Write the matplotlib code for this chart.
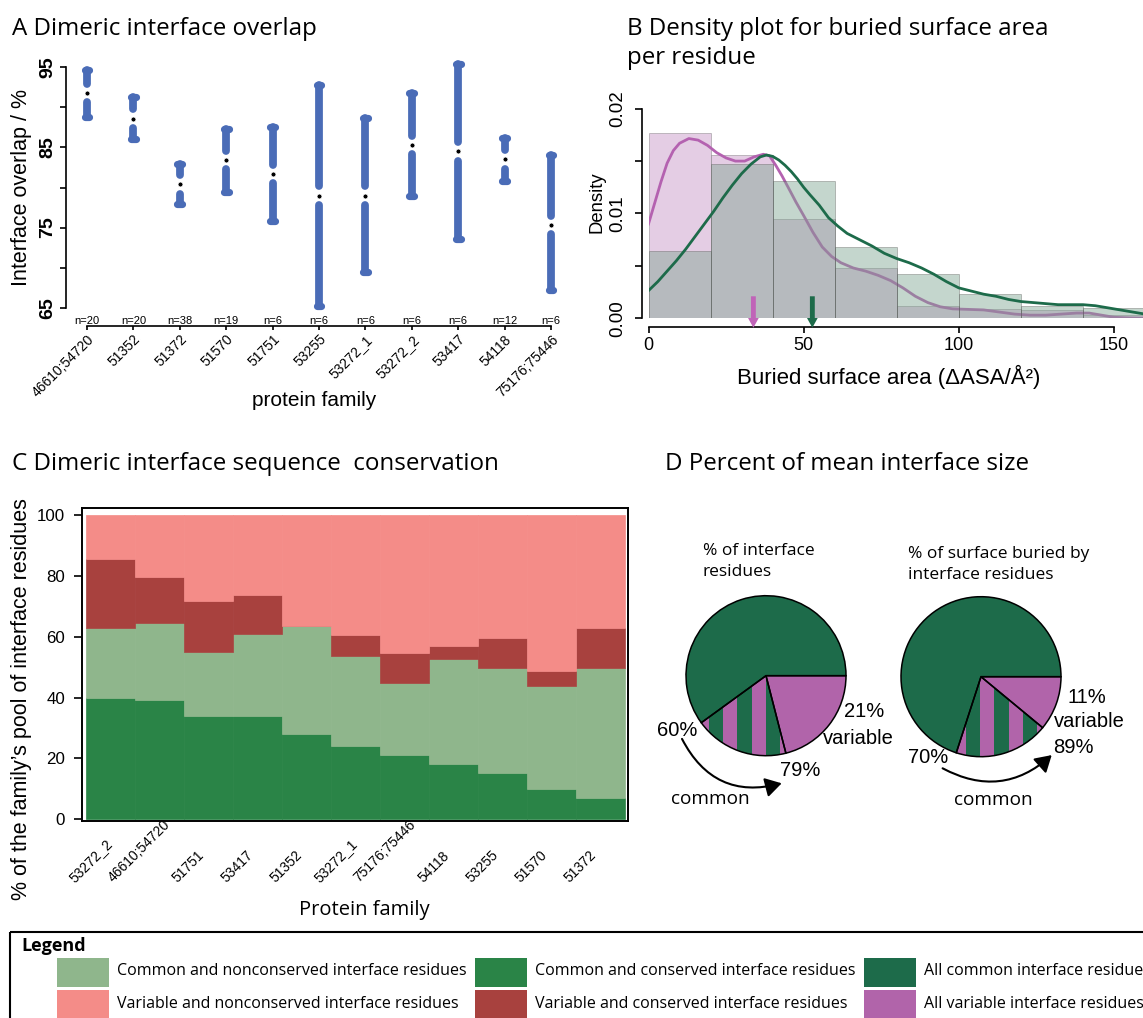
import matplotlib
matplotlib.use('Agg')
import matplotlib.pyplot as plt
from matplotlib.patches import Rectangle
import numpy as np

W, H = 1143, 1018
AF = 'Liberation Sans'   # axis text (Arial-like)
TF = 'Open Sans'         # titles / annotations

BLUE = '#4A6CB7'
LGREEN = '#8FB68C'
GREEN = '#2A8447'
DGREEN = '#1D6B4A'
PINK = '#F48C88'
DRED = '#A8413E'
MAGENTA = '#B164AA'

# ---- panel A: interface overlap ranges ----
a_families = ['46610;54720', '51352', '51372', '51570', '51751', '53255',
              '53272_1', '53272_2', '53417', '54118', '75176;75446']
a_n = [20, 20, 38, 19, 6, 6, 6, 6, 6, 12, 6]
a_top = [94.7, 91.3, 82.9, 87.3, 87.5, 92.8, 88.7, 91.8, 95.4, 86.2, 84.0]
a_bottom = [88.8, 86.0, 77.9, 79.5, 75.8, 65.2, 69.4, 78.9, 73.6, 80.8, 67.2]
a_mean = [91.8, 88.6, 80.4, 83.4, 81.7, 79.0, 79.0, 85.3, 84.5, 83.5, 75.3]

# ---- panel B: buried surface area per residue ----
b_bins = [0, 20, 40, 60, 80, 100, 120, 140]
var_hist = [0.0177, 0.0156, 0.0095, 0.0048, 0.0012, 0.00086, 0.0008, 0.0003]
com_hist = [0.0064, 0.0147, 0.0131, 0.0068, 0.0042, 0.0023, 0.0012, 0.00095]
var_kde_x = [0, 2, 4, 6, 8, 10, 13, 16, 19, 22, 25, 28, 31, 34, 37, 39, 41, 43, 45,
             47.5, 50, 53, 56, 59, 62, 66, 70, 74, 78, 82, 86, 90, 94, 98, 103,
             108, 113, 118, 123, 128, 133, 138, 142, 146, 150, 155, 160]
var_kde_y = [0.0090, 0.0110, 0.0130, 0.0148, 0.0160, 0.0167, 0.01715, 0.0170,
             0.0165, 0.0158, 0.0153, 0.0150, 0.0150, 0.0154, 0.01565, 0.0155,
             0.0146, 0.0136, 0.0125, 0.0111, 0.0098, 0.0082, 0.0068, 0.0059,
             0.0053, 0.0048, 0.0045, 0.0041, 0.0036, 0.0029, 0.0021, 0.0015,
             0.0011, 0.0009, 0.00085, 0.0008, 0.0006, 0.0004, 0.0003, 0.0003,
             0.0004, 0.0005, 0.0005, 0.0003, 0.0001, 0.00003, 0.0]
com_kde_x = [0, 3, 6, 9, 12, 15, 18, 21, 24, 27, 30, 33, 36, 38, 40, 42, 44, 46,
             48, 50, 52, 55, 58, 61, 64, 68, 72, 76, 80, 84, 88, 92, 96, 100,
             104, 108, 112, 116, 120, 124, 128, 132, 136, 140, 144, 148, 152,
             156, 160]
com_kde_y = [0.00264, 0.0035, 0.0045, 0.0055, 0.0066, 0.0078, 0.0090, 0.0102,
             0.0115, 0.0127, 0.0138, 0.0147, 0.0154, 0.01558, 0.01545, 0.0151,
             0.0146, 0.0140, 0.0133, 0.0125, 0.0118, 0.0108, 0.0096, 0.0088,
             0.0081, 0.0075, 0.0069, 0.0062, 0.0057, 0.0053, 0.0048, 0.0042,
             0.0035, 0.0029, 0.0026, 0.0023, 0.0021, 0.0018, 0.0016, 0.0015,
             0.0014, 0.0013, 0.0013, 0.0013, 0.0012, 0.0010, 0.0008, 0.0006,
             0.0004]
b_means = [33.8, 52.8]   # variable, common

# ---- panel C: sequence conservation ----
c_families = ['53272_2', '46610;54720', '51751', '53417', '51352', '53272_1',
              '75176;75446', '54118', '53255', '51570', '51372']
c_common_cons = [39.7, 39.3, 33.9, 33.9, 27.9, 24.0, 21.0, 18.0, 15.0, 10.0, 7.0]
c_common_noncons = [23.1, 25.1, 21.0, 26.9, 35.8, 29.8, 23.9, 34.8, 34.8, 33.9, 42.8]
c_var_cons = [22.8, 15.2, 16.8, 12.9, 0.0, 6.9, 9.9, 4.0, 9.9, 4.9, 13.0]
c_var_noncons = [14.4, 20.4, 28.3, 26.3, 36.3, 39.3, 45.2, 43.2, 40.3, 51.2, 37.2]

# ---- panel D: percent of mean interface size ----
pie_titles = ['% of interface\nresidues', '% of surface buried by\ninterface residues']
pie_common = [60, 70]
pie_shared = [19, 19]
pie_variable = [21, 11]

# ---- legend ----
leg_labels = [['Common and nonconserved interface residues', 'Variable and nonconserved interface residues'],
              ['Common and conserved interface residues', 'Variable and conserved interface residues'],
              ['All common interface residues', 'All variable interface residues']]
leg_colors = [[LGREEN, PINK], [GREEN, DRED], [DGREEN, MAGENTA]]

fig = plt.figure(figsize=(W / 100, H / 100), dpi=100)


def rect(l, t, r, b):
    return [l / W, 1 - b / H, (r - l) / W, (b - t) / H]


def ftext(x, y, s, **kw):
    fig.text(x / W, 1 - y / H, s, **kw)


TITLE_FS = 17.4

# ================= A =================
axA = fig.add_axes(rect(65.7, 55.3, 574.2, 315.7))
xa = np.arange(len(a_families))
gap = 1.15
for x, t, b, m in zip(xa, a_top, a_bottom, a_mean):
    axA.plot([x, x], [t, m + gap], color=BLUE, lw=5.6, solid_capstyle='round', clip_on=False)
    axA.plot([x, x], [m - gap, b], color=BLUE, lw=5.6, solid_capstyle='round', clip_on=False)
    for yv in (t, b):
        axA.plot([x - 0.05, x + 0.05], [yv, yv], color=BLUE, lw=5.2,
                 solid_capstyle='round', clip_on=False)
axA.plot(xa, a_mean, 'o', ms=3.6, mfc='black', mec='white', mew=0.6, ls='none')
axA.set_xlim(-0.459, 10.5)
axA.set_ylim(64, 96.5)
for s in ('top', 'right'):
    axA.spines[s].set_visible(False)
axA.spines['left'].set_bounds(65, 95)
axA.spines['bottom'].set_bounds(0, 10)
axA.spines['bottom'].set_position(('outward', 7.4))
for s in ('left', 'bottom'):
    axA.spines[s].set_linewidth(1.2)
yt = np.arange(65, 96, 5)
axA.set_yticks(yt)
axA.set_yticklabels([str(v) if (v - 65) % 10 == 0 else '' for v in yt],
                    rotation=90, va='center', fontsize=14, fontweight='bold', family=AF)
axA.tick_params(axis='y', length=4.6, width=1.2, pad=2.4)
axA.set_xticks(xa)
axA.set_xticklabels(a_families, rotation=45, ha='right', va='top',
                    rotation_mode='anchor', fontsize=10, family=AF)
axA.tick_params(axis='x', length=3, width=1.2, pad=1.5)
for x, n in zip(xa, a_n):
    axA.text(x, -0.0192, f'n={n}', transform=axA.get_xaxis_transform(),
             ha='center', va='center', fontsize=8, family=AF)
ftext(21.7, 188, 'Interface overlap / %', rotation=90, ha='center', va='center',
      fontsize=15.5, family=AF)
ftext(314, 401, 'protein family', ha='center', va='center', fontsize=15, family=AF)
ftext(12, 35, 'A Dimeric interface overlap', va='baseline', fontsize=TITLE_FS, family=TF)

# ================= B =================
axB = fig.add_axes(rect(648.5, 98.2, 1145, 318.3))
axB.bar(b_bins, var_hist, width=20, align='edge', facecolor='#E4CDE4',
        edgecolor=(0.35, 0.35, 0.35, 0.4), lw=0.6, zorder=1)
axB.plot(var_kde_x, var_kde_y, color='#B462B0', lw=2, zorder=2)
axB.bar(b_bins, com_hist, width=20, align='edge',
        facecolor=(126 / 255, 164 / 255, 144 / 255, 0.45),
        edgecolor=(0.3, 0.3, 0.3, 0.4), lw=0.6, zorder=3)
axB.plot(com_kde_x, com_kde_y, color=DGREEN, lw=2, zorder=4)
for xm, col in zip(b_means, ['#C064B8', DGREEN]):
    axB.annotate('', xy=(xm, -0.0009), xytext=(xm, 0.0021),
                 arrowprops=dict(arrowstyle='simple,head_length=0.5,head_width=0.55,tail_width=0.25',
                                 mutation_scale=14, color=col, lw=0, shrinkA=0, shrinkB=0),
                 annotation_clip=False, zorder=5)
axB.set_xlim(0, 160)
axB.set_ylim(0, 0.021)
for s in ('top', 'right'):
    axB.spines[s].set_visible(False)
axB.spines['left'].set_bounds(0, 0.02)
axB.spines['left'].set_position(('outward', 4.7))
axB.spines['bottom'].set_bounds(0, 150)
axB.spines['bottom'].set_position(('outward', 6.5))
for s in ('left', 'bottom'):
    axB.spines[s].set_linewidth(1.2)
ybt = np.arange(0, 0.0201, 0.005)
axB.set_yticks(ybt)
axB.set_yticklabels([f'{v:.2f}' if round(v * 1000) % 10 == 0 else '' for v in ybt],
                    rotation=90, va='center', fontsize=13.5, family=AF)
axB.tick_params(axis='y', length=5, width=1.2, pad=6)
axB.set_xticks([0, 50, 100, 150])
axB.set_xticklabels(['0', '50', '100', '150'], fontsize=13, family=AF)
axB.tick_params(axis='x', length=4.3, width=1.2, pad=2.5)
ftext(596.7, 202.5, 'Density', rotation=90, ha='center', va='center', fontsize=13.3, family=AF)
ftext(889, 376.7, 'Buried surface area (ΔASA/Å²)', ha='center', va='center',
      fontsize=16, family=AF)
ftext(626.7, 35, 'B Density plot for buried surface area', va='baseline', fontsize=TITLE_FS, family=TF)
ftext(626.7, 64, 'per residue', va='baseline', fontsize=TITLE_FS, family=TF)

# ================= C =================
axC = fig.add_axes(rect(81.7, 508.3, 628.3, 821))
xc = np.arange(len(c_families))
bottom = np.zeros(len(xc))
for vals, col in zip([c_common_cons, c_common_noncons, c_var_cons, c_var_noncons],
                     [GREEN, LGREEN, DRED, PINK]):
    axC.bar(xc, vals, bottom=bottom, width=1, align='edge', color=col,
            edgecolor=col, lw=0.5)
    bottom = bottom + np.array(vals)
axC.set_xlim(-0.088, 11.067)
axC.set_ylim(-0.66, 102.3)
for s in axC.spines.values():
    s.set_linewidth(1.4)
axC.set_yticks(np.arange(0, 101, 20))
axC.tick_params(axis='y', length=5.5, width=1.2, pad=6.5, labelsize=12.2)
for lab in axC.get_yticklabels():
    lab.set_family(AF)
axC.set_xticks([])
for i, fam in enumerate(c_families):
    axC.annotate(fam, xy=(i + 0.5, 0), xycoords=('data', 'axes fraction'),
                 xytext=(-14.4, -46), textcoords='offset points', rotation=45,
                 ha='center', va='bottom', fontsize=10, family=AF)
ftext(21.7, 699, '% of the family’s pool of interface residues', rotation=90,
      ha='center', va='center', fontsize=15.5, family=AF)
ftext(364, 910, 'Protein family', ha='center', va='center', fontsize=14.5, family=TF)
ftext(12, 470, 'C Dimeric interface sequence  conservation', va='baseline', fontsize=TITLE_FS, family=TF)

# ================= D =================
ftext(665, 470, 'D Percent of mean interface size', va='baseline', fontsize=TITLE_FS, family=TF)
pie_centres = [(766, 675.7), (981, 676.7)]
stripe_phase = [0.0, 0.167]
stripe_w = 0.179
# label positions in pie-radius units
pct_pos = [[(-1.11, -0.69), (0.425, -1.19), (1.225, -0.45)],
           [(-0.66, -1.016), (1.15, -0.88), (1.325, -0.254)]]
var_pos = [(1.15, -0.79), (1.35, -0.566)]
com_pos = [(-0.7, -1.54), (0.15, -1.54)]
title_pos = [(-0.79, 1.427), (-0.9125, 1.40)]
arrow_pts = [((-1.05, -0.79), (0.196, -1.345), 0.4), ((-0.48, -1.145), (0.884, -0.98), 0.35)]

for k, (cx, cy) in enumerate(pie_centres):
    axP = fig.add_axes(rect(cx - 100, cy - 100, cx + 100, cy + 100))
    vals = [pie_common[k], pie_shared[k], pie_variable[k]]
    wedges, _ = axP.pie(vals, colors=[DGREEN, MAGENTA, MAGENTA], startangle=0,
                        counterclock=True, wedgeprops=dict(linewidth=0))
    for j in range(-4, 5):
        x0 = stripe_phase[k] + j * 2 * stripe_w
        st = Rectangle((x0, -1.1), stripe_w, 2.2, facecolor=DGREEN, lw=0, zorder=3)
        axP.add_patch(st)
        st.set_clip_path(wedges[1])
    outl, _ = axP.pie(vals, colors=['none'] * 3, startangle=0, counterclock=True,
                      wedgeprops=dict(edgecolor='black', linewidth=1.1, fill=False))
    for w in outl:
        w.set_zorder(4)
    axP.set_xlim(-1.25, 1.25)
    axP.set_ylim(-1.25, 1.25)
    axP.set_aspect('equal')
    axP.axis('off')
    common_total = pie_common[k] + pie_shared[k]
    pct_texts = [f'{pie_common[k]}%', f'{common_total}%', f'{pie_variable[k]}%']
    for (u, v), s in zip(pct_pos[k], pct_texts):
        axP.text(u, v, s, ha='center', va='center', fontsize=14.5, family=AF, clip_on=False)
    axP.text(*var_pos[k], 'variable', ha='center', va='center', fontsize=14.5, family=AF)
    axP.text(*com_pos[k], 'common', ha='center', va='center', fontsize=13.7, family=TF)
    axP.text(*title_pos[k], pie_titles[k], ha='left', va='center', fontsize=12.5,
             family=TF, linespacing=1.4)
    (p0, p1, rad) = arrow_pts[k]
    axP.annotate('', xy=p1, xytext=p0,
                 arrowprops=dict(arrowstyle='-|>,head_length=0.7,head_width=0.42',
                                 mutation_scale=14, color='black', lw=1.5,
                                 connectionstyle=f'arc3,rad={rad}', shrinkA=0, shrinkB=0),
                 annotation_clip=False)

# ================= legend =================
axL = fig.add_axes([0, 0, 1, 1])
axL.set_xlim(0, W)
axL.set_ylim(H, 0)
axL.axis('off')
axL.add_patch(Rectangle((10, 931.7), 1200, 120, fill=False, lw=1.5, edgecolor='black'))
axL.text(21, 946, 'Legend', fontweight='bold', fontsize=13, family=TF, va='center')
col_x = [56.7, 475, 863.7]
row_top = [957.7, 990]
for ci, cx0 in enumerate(col_x):
    for ri, ry in enumerate(row_top):
        axL.add_patch(Rectangle((cx0, ry), 52, 29, facecolor=leg_colors[ci][ri], lw=0))
        axL.text(cx0 + 60, ry + 13.5, leg_labels[ci][ri], fontsize=11.5, family=TF, va='center')

fig.savefig('out.png', dpi=100)
